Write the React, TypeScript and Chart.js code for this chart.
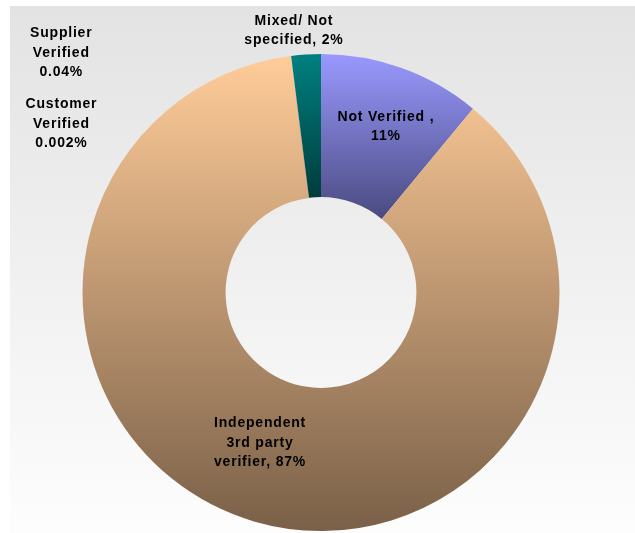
import React, { useEffect, useRef } from 'react';
import { Chart, registerables } from 'chart.js';

Chart.register(...registerables);

const categories = ['Not Verified', 'Independent 3rd party verifier', 'Supplier Verified', 'Customer Verified', 'Mixed/ Not specified'];
const values = [11, 87, 0.04, 0.002, 2];
const labelLines = [
  ['Not Verified ,', '11%'],
  ['Independent', '3rd party', 'verifier, 87%'],
  ['Supplier', 'Verified', '0.04%'],
  ['Customer', 'Verified', '0.002%'],
  ['Mixed/ Not', 'specified, 2%'],
];
const topColors = ['#9999ff', '#ffcc99', '#ffcc99', '#ffcc99', '#008080'];
const bottomColors = ['#4a4a80', '#7a6048', '#7a6048', '#7a6048', '#003c3c'];
// label offsets (px) from each arc's centroid
const labelOffsets = [[8, -9], [-15, -10], [-239, -74], [-239, -3], [-17, -95]];

function segmentBounds(cx: number, cy: number, r0: number, r1: number, a0: number, a1: number) {
  const ys: number[] = [];
  [a0, a1].forEach((a) => {
    ys.push(cy + r0 * Math.sin(a), cy + r1 * Math.sin(a));
  });
  for (let k = -4; k <= 8; k++) {
    const a = (k * Math.PI) / 2;
    if (a > a0 && a < a1) ys.push(cy + r1 * Math.sin(a));
  }
  return [Math.min(...ys), Math.max(...ys)];
}

const bgPlugin = {
  id: 'bgPlugin',
  beforeDraw(chart: any) {
    const { ctx, width, height } = chart;
    ctx.save();
    ctx.fillStyle = '#ffffff';
    ctx.fillRect(0, 0, width, height);
    const g = ctx.createLinearGradient(0, 6, 0, height);
    g.addColorStop(0, '#e3e3e3');
    g.addColorStop(1, '#fdfdfd');
    ctx.fillStyle = g;
    ctx.fillRect(10, 6, width - 10, height - 6);
    ctx.restore();
  },
};

const labelPlugin = {
  id: 'labelPlugin',
  afterDatasetsDraw(chart: any) {
    const { ctx } = chart;
    const meta = chart.getDatasetMeta(0);
    ctx.save();
    ctx.font = 'bold 14px "Liberation Sans", Arial, sans-serif';
    (ctx as any).letterSpacing = '0.8px';
    ctx.fillStyle = '#000000';
    ctx.textAlign = 'center';
    ctx.textBaseline = 'middle';
    const lh = 19.5;
    meta.data.forEach((arc: any, i: number) => {
      const p = arc.tooltipPosition(false);
      const lines = labelLines[i];
      const x = p.x + labelOffsets[i][0];
      const yc = p.y + labelOffsets[i][1];
      const y0 = yc - ((lines.length - 1) * lh) / 2;
      lines.forEach((t, j) => ctx.fillText(t, x + 0.4, y0 + j * lh));
    });
    ctx.restore();
  },
};

export default function App() {
  const ref = useRef<HTMLCanvasElement>(null);
  useEffect(() => {
    if (!ref.current) return;
    const total = values.reduce((a, b) => a + b, 0);
    const chart = new Chart(ref.current, {
      type: 'doughnut',
      data: {
        labels: categories,
        datasets: [
          {
            data: values,
            borderWidth: 0,
            backgroundColor: (c: any) => {
              const chartObj = c.chart;
              const area = chartObj.chartArea;
              const i = c.dataIndex;
              if (!area || i === undefined) return topColors[i ?? 0];
              const cx = (area.left + area.right) / 2;
              const cy = (area.top + area.bottom) / 2;
              const r1 = Math.min(area.width, area.height) / 2;
              const r0 = r1 * 0.4;
              let cum = 0;
              for (let k = 0; k < i; k++) cum += values[k];
              const a0 = -Math.PI / 2 + (cum / total) * 2 * Math.PI;
              const a1 = a0 + (values[i] / total) * 2 * Math.PI;
              const [yTop, yBot] = segmentBounds(cx, cy, r0, r1, a0, a1);
              const g = chartObj.ctx.createLinearGradient(0, yTop, 0, Math.max(yBot, yTop + 1));
              g.addColorStop(0, topColors[i]);
              g.addColorStop(1, bottomColors[i]);
              return g;
            },
          },
        ],
      },
      options: {
        responsive: false,
        animation: false,
        devicePixelRatio: 1,
        cutout: '40%',
        layout: { padding: { left: 81, right: 74, top: 54, bottom: 2 } },
        plugins: {
          legend: { display: false },
          tooltip: { enabled: false },
        },
      },
      plugins: [bgPlugin, labelPlugin],
    });
    return () => chart.destroy();
  }, []);
  return (
    <div style={{ position: 'absolute', left: 0, top: 0, width: 635, height: 533 }}>
      <canvas ref={ref} width={635} height={533} style={{ display: 'block' }} />
    </div>
  );
}
